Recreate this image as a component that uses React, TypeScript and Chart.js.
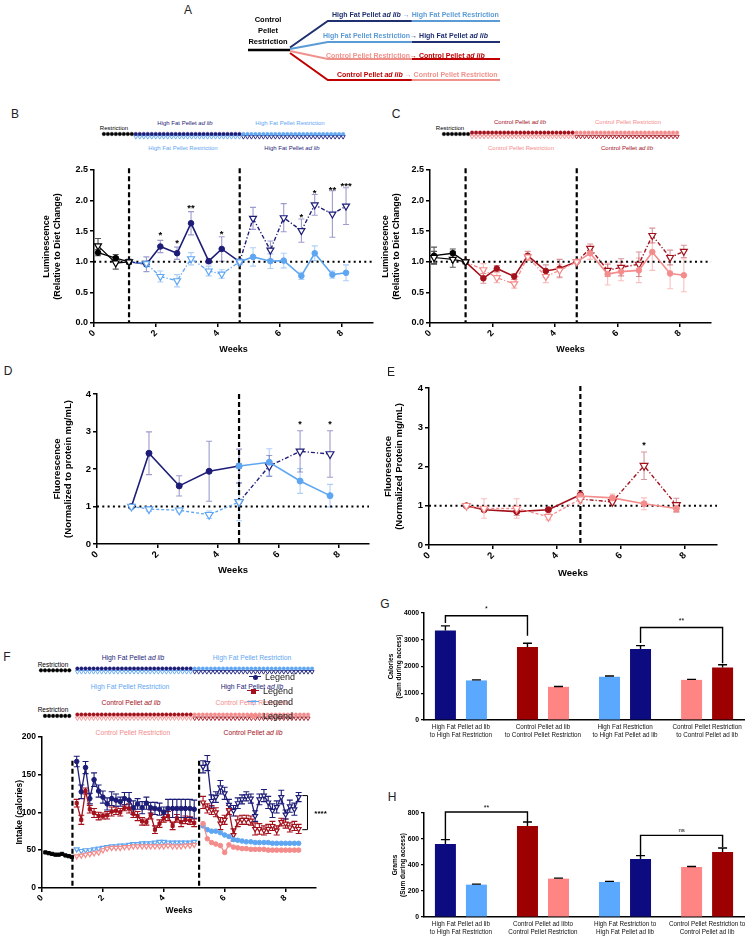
import React, { useEffect, useRef } from 'react';
import { Chart, registerables } from 'chart.js';

Chart.register(...registerables);

const FONT = "'Liberation Sans', Arial, Helvetica, sans-serif";
Chart.defaults.font.family = FONT;
Chart.defaults.color = '#000';

// ---------- colours
const NAVY = '#1d1d78';
const LBLUE = '#5fa6f2';
const DRED = '#a3111c';
const PINK = '#f48c8c';
const NAVY_ERR = 'rgba(75,75,165,0.55)';
const LBLUE_ERR = 'rgba(120,175,240,0.6)';
const DRED_ERR = 'rgba(175,45,55,0.5)';
const PINK_ERR = 'rgba(245,150,150,0.6)';
const BAR_NAVY = '#0c0c80';
const BAR_LBLUE = '#5ba9ff';
const BAR_DRED = '#9c0000';
const BAR_PINK = '#ff8585';
const A_NAVY = '#1f2f70';
const A_LBLUE = '#5b9bd5';
const A_PINK = '#f0928c';
const A_RED = '#c00000';

// ---------- Panel A (schematic)
const diagramStops = [0, 1, 1.9, 3.9, 6]; // restriction start, branch point, phase-1 start, switch, end
const branchLevels = [2.9, 0.8, -0.9, -3.0];
const branchOrigins = [0.25, 0.1, -0.1, -0.3];
const branchFirstColors = [A_NAVY, A_LBLUE, A_PINK, A_RED];
const branchSecondColors = [A_LBLUE, A_NAVY, A_RED, A_PINK];

// ---------- annotation marker spans (index ranges)
const bAnnotSpans = [[0, 7], [8, 34], [35, 60]];
const cAnnotSpans = [[0, 6], [7, 32], [33, 58]];
const f1AnnotSpans = [[0, 7], [9, 37], [38, 67]];
const f2AnnotSpans = [[1, 7], [9, 37], [38, 66]];

// ---------- Panel B (luminescence, high fat)
const bWeeksPre = [0.13, 0.7, 1.13];
const bPreCircle = [1.15, 1.06, 1.0];
const bPreCircleErr = [0.05, 0.06, 0.03];
const bPreTri = [1.26, 0.98, 1.0];
const bPreTriErr = [0.12, 0.1, 0.04];
const bWeeksP1 = [1.13, 1.69, 2.14, 2.68, 3.13, 3.7, 4.12, 4.7];
const bAdlibP1 = [1.0, 0.96, 1.25, 1.14, 1.63, 1.01, 1.21, 1.0];
const bAdlibP1Err = [0, 0.12, 0.1, 0.1, 0.19, 0.04, 0.2, 0];
const bRestrP1 = [1.0, 0.97, 0.76, 0.69, 1.05, 0.85, 0.8, 1.0];
const bRestrP1Err = [0, 0.05, 0.09, 0.1, 0.1, 0.08, 0.07, 0.05];
const bWeeksP2 = [4.7, 5.13, 5.69, 6.12, 6.69, 7.12, 7.69, 8.13];
const bRestrP2 = [1.0, 1.08, 1.01, 1.02, 0.77, 1.14, 0.79, 0.82];
const bRestrP2Err = [0, 0.15, 0.12, 0.12, 0.06, 0.12, 0.06, 0.13];
const bAdlibP2 = [1.0, 1.71, 1.19, 1.72, 1.51, 1.93, 1.78, 1.91];
const bAdlibP2Err = [0, 0.18, 0.15, 0.23, 0.19, 0.17, 0.38, 0.3];
const bSwitchWeeks = [1.13, 4.7];
const bStarWeeks = [2.14, 2.68, 3.13, 4.12, 6.69, 7.12, 7.69, 8.13];
const bStarLevels = [1.47, 1.35, 1.92, 1.49, 1.77, 2.16, 2.21, 2.28];
const bStars = ['*', '*', '**', '*', '*', '*', '**', '***'];

// ---------- Panel C (luminescence, control)
const cWeeksPre = [0.13, 0.73, 1.14];
const cPreCircle = [1.1, 1.14, 1.0];
const cPreCircleErr = [0.14, 0.07, 0.03];
const cPreTri = [1.07, 1.04, 1.0];
const cPreTriErr = [0.1, 0.13, 0.03];
const cWeeksP1 = [1.14, 1.71, 2.14, 2.7, 3.13, 3.71, 4.15, 4.7];
const cAdlibP1 = [1.0, 0.73, 0.89, 0.76, 1.1, 0.85, 0.89, 1.0];
const cAdlibP1Err = [0, 0.08, 0.05, 0.05, 0.07, 0.1, 0.15, 0];
const cRestrP1 = [1.0, 0.87, 0.74, 0.64, 1.08, 0.76, 0.86, 1.0];
const cRestrP1Err = [0, 0.1, 0.08, 0.07, 0.05, 0.1, 0.1, 0];
const cWeeksP2 = [4.7, 5.13, 5.69, 6.12, 6.69, 7.12, 7.69, 8.13];
const cRestrP2 = [1.0, 1.14, 0.8, 0.84, 0.86, 1.16, 0.81, 0.78];
const cRestrP2Err = [0, 0.1, 0.18, 0.15, 0.2, 0.3, 0.25, 0.27];
const cAdlibP2 = [1.0, 1.22, 0.86, 0.91, 0.96, 1.43, 1.07, 1.17];
const cAdlibP2Err = [0, 0.07, 0.1, 0.14, 0.2, 0.12, 0.12, 0.1];
const cSwitchWeeks = [1.14, 4.7];

// ---------- Panel D (fluorescence, high fat)
const dWeeksP1 = [1.14, 1.72, 2.72, 3.71, 4.7];
const dAdlibP1 = [1.0, 2.42, 1.55, 1.94, 2.08];
const dAdlibP1Err = [0.03, 0.57, 0.27, 0.8, 0.45];
const dRestrP1 = [1.0, 0.93, 0.9, 0.78, 1.12];
const dRestrP1Err = [0.05, 0.06, 0.05, 0.1, 0.5];
const dWeeksP2 = [4.7, 5.7, 6.72, 7.71];
const dRestrP2 = [2.08, 2.18, 1.68, 1.29];
const dRestrP2Err = [0, 0.36, 0.33, 0.3];
const dAdlibP2 = [1.12, 2.08, 2.47, 2.4];
const dAdlibP2Err = [0, 0.28, 0.55, 0.62];
const dSwitchWeeks = [4.7];
const dStarWeeks = [6.72, 7.71];
const dStarLevels = [3.26, 3.26];

// ---------- Panel E (fluorescence, control)
const eWeeksP1 = [1.17, 1.72, 2.74, 3.73, 4.73];
const eAdlibP1 = [1.0, 0.9, 0.85, 0.9, 1.28];
const eAdlibP1Err = [0.04, 0.05, 0.1, 0.05, 0.1];
const eRestrP1 = [1.0, 0.93, 0.93, 0.72, 1.17];
const eRestrP1Err = [0.05, 0.25, 0.25, 0.08, 0.1];
const eWeeksP2 = [4.73, 5.73, 6.72, 7.73];
const eRestrP2 = [1.25, 1.2, 1.05, 0.93];
const eRestrP2Err = [0, 0.1, 0.15, 0.1];
const eAdlibP2 = [1.17, 1.1, 2.02, 1.02];
const eAdlibP2Err = [0, 0.08, 0.35, 0.17];
const eSwitchWeeks = [4.73];
const eStarWeeks = [6.72];
const eStarLevels = [2.6];

// ---------- Panel F (intake)
const fWeeksPre = [0.11, 0.22, 0.33, 0.44, 0.55, 0.66, 0.77, 0.88, 0.98];
const fPre = [47, 46, 45, 44, 44, 45, 43, 42, 41];
const fWeeksP1 = [1.14, 1.29, 1.43, 1.57, 1.71, 1.86, 2.0, 2.14, 2.29, 2.43, 2.57, 2.71, 2.86, 3.0, 3.14, 3.29, 3.43, 3.57, 3.71, 3.86, 4.0, 4.14, 4.29, 4.43, 4.57, 4.71, 4.86, 5.0];
const fHfAdlibP1 = [167, 127, 159, 118, 143, 128, 120, 111, 118, 116, 114, 118, 116, 106, 111, 106, 112, 106, 105, 104, 100, 105, 105, 105, 105, 105, 105, 104];
const fHfAdlibP1Err = [7, 9, 8, 7, 9, 8, 8, 8, 9, 8, 6, 8, 10, 9, 7, 8, 8, 7, 8, 8, 7, 12, 12, 12, 12, 12, 12, 12];
const fCtrlAdlibP1 = [112, 90, 128, 104, 99, 95, 95, 96, 101, 102, 100, 106, 105, 98, 95, 88, 87, 97, 77, 85, 92, 95, 82, 92, 87, 90, 89, 86];
const fCtrlAdlibP1Err = [5, 6, 4, 5, 6, 5, 4, 5, 6, 5, 5, 4, 6, 5, 6, 5, 4, 6, 5, 5, 5, 6, 5, 5, 6, 5, 5, 5];
const fHfRestrP1 = [51, 49, 50, 50, 51, 52, 53, 54, 55, 55, 56, 56, 57, 58, 58, 59, 59, 59, 60, 61, 61, 60, 60, 60, 60, 60, 60, 61];
const fCtrlRestrP1 = [42, 43, 44, 45, 46, 47, 50, 52, 53, 53, 53, 54, 54, 55, 55, 55, 55, 55, 55, 55, 55, 56, 55, 55, 55, 56, 56, 57];
const fWeeksP2 = [5.29, 5.43, 5.57, 5.71, 5.86, 6.0, 6.14, 6.29, 6.43, 6.57, 6.71, 6.86, 7.0, 7.14, 7.29, 7.43, 7.57, 7.71, 7.86, 8.0, 8.14, 8.29, 8.43];
const fHfAdlibP2 = [160, 165, 115, 120, 133, 125, 110, 102, 112, 117, 121, 118, 95, 117, 122, 113, 102, 107, 120, 97, 108, 104, 120];
const fHfAdlibP2Err = [8, 10, 8, 7, 9, 8, 7, 7, 7, 6, 6, 6, 7, 7, 8, 8, 9, 8, 9, 6, 8, 8, 6];
const fCtrlAdlibP2 = [113, 105, 103, 100, 85, 90, 103, 70, 88, 90, 90, 89, 78, 78, 76, 78, 82, 76, 87, 85, 80, 82, 78];
const fCtrlAdlibP2Err = [8, 6, 6, 6, 8, 6, 6, 8, 7, 6, 6, 6, 8, 7, 6, 6, 6, 6, 5, 6, 6, 6, 6];
const fHfRestrP2 = [82, 77, 75, 75, 73, 70, 68, 64, 63, 62, 61, 61, 60, 60, 60, 60, 59, 59, 59, 59, 59, 59, 59];
const fCtrlRestrP2 = [85, 65, 60, 58, 56, 47, 57, 54, 53, 52, 52, 51, 51, 51, 51, 50, 50, 50, 50, 50, 50, 50, 50];
const fSwitchWeeks = [1.0, 5.16];

// ---------- Panel G (calories) & H (grams)
const gLabels = [
  ['High Fat Pellet ad lib', 'to High Fat Restriction'],
  ['Control Pellet ad lib', 'to Control Pellet Restriction'],
  ['High Fat Restriction', 'to High Fat Pellet ad lib'],
  ['Control Pellet Restriction', 'to Control Pellet ad lib'],
];
const gFirst = [3350, 2730, 1620, 1500];
const gFirstErr = [170, 140, 25, 20];
const gSecond = [1480, 1240, 2650, 1960];
const gSecondErr = [20, 15, 130, 105];
const gSigText = ['*', '**'];
const gSigTop = [3900, 3460];
const gSigLeftBottom = [3630, 2880];
const gSigRightBottom = [3150, 2120];
const gSigTextLevel = [4200, 3750];

const hLabels = [
  ['High Fat Pellet ad lib', 'to High Fat Restriction'],
  ['Control Pellet ad libto', 'Control Pellet Restriction'],
  ['High Fat Restriction to', 'High Fat Pellet ad lib'],
  ['Control Pellet Restriction to', 'Control Pellet ad lib'],
];
const hFirst = [562, 700, 270, 384];
const hFirstErr = [33, 31, 4, 4];
const hSecond = [249, 295, 446, 500];
const hSecondErr = [4, 4, 26, 31];
const hSigText = ['**', 'ns'];
const hSigTop = [808, 628];
const hSigLeftBottom = [598, 475];
const hSigRightBottom = [731, 538];
const hSigTextLevel = [852, 668];

const barFirstColors = [BAR_NAVY, BAR_DRED, BAR_LBLUE, BAR_PINK];
const barSecondColors = [BAR_LBLUE, BAR_PINK, BAR_NAVY, BAR_DRED];
const sigPairs = [
  [[0, 0], [1, 0]],
  [[2, 1], [3, 1]],
];

// ---------- helpers
const range = (a: number, b: number) => {
  const r: number[] = [];
  for (let i = a; i <= b; i++) r.push(i);
  return r;
};

function errorPlugin(after: boolean) {
  const draw = (chart: any) => {
    const ctx = chart.ctx;
    chart.data.datasets.forEach((ds: any, i: number) => {
      if (!ds.errors) return;
      const meta = chart.getDatasetMeta(i);
      const ys = chart.scales[meta.yAxisID];
      ctx.save();
      ctx.strokeStyle = ds.errorColor || ds.borderColor;
      ctx.lineWidth = ds.errorWidth || 1.1;
      ctx.setLineDash([]);
      meta.data.forEach((el: any, j: number) => {
        const e = ds.errors[j];
        if (!e) return;
        const raw = ds.data[j];
        const v = typeof raw === 'number' ? raw : raw.y;
        const x = el.x;
        const cap = ds.errorCap || 3;
        const yTop = ys.getPixelForValue(v + e);
        const yBot = ds.errorUpOnly ? el.y : ys.getPixelForValue(v - e);
        ctx.beginPath();
        ctx.moveTo(x, yTop);
        ctx.lineTo(x, yBot);
        ctx.moveTo(x - cap, yTop);
        ctx.lineTo(x + cap, yTop);
        if (!ds.errorUpOnly) {
          ctx.moveTo(x - cap, yBot);
          ctx.lineTo(x + cap, yBot);
        }
        ctx.stroke();
      });
      ctx.restore();
    });
  };
  return after
    ? { id: 'errbars', afterDatasetsDraw: draw }
    : { id: 'errbars', beforeDatasetsDraw: draw };
}

function marksPlugin(m: any) {
  return {
    id: 'marks',
    beforeDatasetsDraw(chart: any) {
      const { ctx, chartArea, scales } = chart;
      const xs = scales.x;
      const ys = scales.y;
      ctx.save();
      if (m.hline !== undefined) {
        ctx.strokeStyle = '#000';
        ctx.lineWidth = 2;
        ctx.setLineDash([2, 3.3]);
        const y = ys.getPixelForValue(m.hline);
        ctx.beginPath();
        ctx.moveTo(chartArea.left, y);
        ctx.lineTo(chartArea.right, y);
        ctx.stroke();
      }
      (m.vlines || []).forEach((v: any) => {
        ctx.strokeStyle = '#000';
        ctx.lineWidth = 2.2;
        ctx.setLineDash([5, 3]);
        const x = xs.getPixelForValue(v.x);
        ctx.beginPath();
        ctx.moveTo(x, ys.getPixelForValue(v.y1));
        ctx.lineTo(x, ys.getPixelForValue(v.y0));
        ctx.stroke();
      });
      ctx.restore();
    },
    afterDatasetsDraw(chart: any) {
      const { ctx, scales } = chart;
      const xs = scales.x;
      const ys = scales.y;
      ctx.save();
      ctx.fillStyle = '#000';
      ctx.textAlign = 'center';
      ctx.textBaseline = 'alphabetic';
      const size = m.starSize || 9;
      ctx.font = `bold ${size}px ${FONT}`;
      (m.stars || []).forEach((s: any) => {
        ctx.fillText(s.t, xs.getPixelForValue(s.x), ys.getPixelForValue(s.y) + size * 0.57);
      });
      (m.rbrackets || []).forEach((b: any) => {
        ctx.strokeStyle = '#000';
        ctx.lineWidth = 1;
        ctx.setLineDash([]);
        const x0 = xs.getPixelForValue(b.x0);
        const x1 = xs.getPixelForValue(b.x1);
        const yt = ys.getPixelForValue(b.yTop);
        const yb = ys.getPixelForValue(b.yBot);
        ctx.beginPath();
        ctx.moveTo(x0, yt);
        ctx.lineTo(x1, yt);
        ctx.lineTo(x1, yb);
        ctx.lineTo(x0, yb);
        ctx.stroke();
        const ts = b.size || 8;
        ctx.font = `bold ${ts}px ${FONT}`;
        ctx.fillText(b.t, xs.getPixelForValue(b.tx), ys.getPixelForValue(b.ty) + ts * 0.57);
      });
      ctx.restore();
    },
  };
}

function sigPlugin(sig: any) {
  return {
    id: 'sig',
    afterDatasetsDraw(chart: any) {
      const { ctx, scales } = chart;
      const ys = scales.y;
      ctx.save();
      ctx.strokeStyle = '#000';
      ctx.fillStyle = '#000';
      ctx.lineWidth = 1.4;
      ctx.textAlign = 'center';
      sig.pairs.forEach((p: any, i: number) => {
        const xa = chart.getDatasetMeta(p[0][1]).data[p[0][0]].x;
        const xb = chart.getDatasetMeta(p[1][1]).data[p[1][0]].x;
        const yt = ys.getPixelForValue(sig.top[i]);
        const ya = ys.getPixelForValue(sig.leftBottom[i]);
        const yb = ys.getPixelForValue(sig.rightBottom[i]);
        ctx.beginPath();
        ctx.moveTo(xa, ya);
        ctx.lineTo(xa, yt);
        ctx.lineTo(xb, yt);
        ctx.lineTo(xb, yb);
        ctx.stroke();
        const t = sig.text[i];
        const size = t === 'ns' ? 6 : 7;
        ctx.font = `${size}px ${FONT}`;
        ctx.textBaseline = 'middle';
        ctx.fillText(t, (xa + xb) / 2, ys.getPixelForValue(sig.textLevel[i]) + (t === 'ns' ? 0 : size * 0.25));
      });
      ctx.restore();
    },
  };
}

type Series = {
  x: number[];
  y: number[];
  err?: number[];
  color: string;
  errColor?: string;
  marker: string;
  open?: boolean;
  dash?: number[];
  r?: number;
  lw?: number;
};

function toDataset(s: Series) {
  const tri = s.marker === 'triangle';
  return {
    type: 'line',
    data: s.x.map((x, i) => ({ x, y: s.y[i] })),
    borderColor: s.color,
    backgroundColor: s.open ? '#ffffff' : s.color,
    pointBackgroundColor: s.open ? '#ffffff' : s.color,
    pointBorderColor: s.color,
    pointBorderWidth: s.open ? 1.2 : 1,
    pointStyle: s.marker,
    pointRotation: tri ? 180 : 0,
    pointRadius: s.r ?? (tri ? 4 : 2.8),
    borderWidth: s.lw ?? 1.5,
    borderDash: s.dash ?? [],
    tension: 0,
    fill: false,
    clip: false,
    errors: s.err,
    errorColor: s.errColor ?? s.color,
    errorCap: 3,
  };
}

function lineConfig(o: any): any {
  const tickFont = { size: o.tick, weight: 'bold', family: FONT };
  const titleFont = { size: o.title, weight: 'bold', family: FONT, lineHeight: o.titleLH || 1.2 };
  return {
    type: 'line',
    data: { datasets: o.series.map(toDataset) },
    options: {
      responsive: false,
      animation: false,
      events: [],
      layout: { padding: { left: 0, top: o.mt, right: o.mr, bottom: 0 } },
      plugins: { legend: { display: false }, tooltip: { enabled: false } },
      scales: {
        x: {
          type: 'linear',
          min: 0,
          max: o.xMax,
          afterBuildTicks: (s: any) => {
            s.ticks = s.ticks.filter((t: any) => t.value % 2 === 0);
          },
          afterFit: (s: any) => {
            s.height = o.mb;
          },
          ticks: { stepSize: 2, minRotation: 45, maxRotation: 45, font: tickFont, color: '#000', padding: 1 },
          grid: { display: true, drawOnChartArea: false, drawTicks: true, tickLength: 4, color: '#000', lineWidth: 1.5 },
          border: { display: true, color: '#000', width: 1.5 },
          title: { display: true, text: 'Weeks', font: titleFont, color: '#000', padding: { top: 0, bottom: o.xTitlePb } },
        },
        y: {
          type: 'linear',
          min: 0,
          max: o.yMax,
          afterFit: (s: any) => {
            s.width = o.ml;
          },
          ticks: { stepSize: o.yStep, callback: (v: number) => o.yFmt(v), font: tickFont, color: '#000', padding: 2 },
          grid: { display: true, drawOnChartArea: false, drawTicks: true, tickLength: 4, color: '#000', lineWidth: 1.5 },
          border: { display: true, color: '#000', width: 1.5 },
          title: { display: true, text: o.yTitle, font: titleFont, color: '#000', padding: { top: o.yTitlePt, bottom: 0 } },
        },
      },
    },
    plugins: [errorPlugin(false), marksPlugin(o.marks)],
  };
}

function barConfig(o: any): any {
  const mk = (vals: number[], errs: number[], colors: string[]) => ({
    data: vals.map((v, i) => ({ x: i, y: v })),
    backgroundColor: colors,
    borderWidth: 0,
    categoryPercentage: 0.756,
    barPercentage: 0.677,
    errors: errs,
    errorUpOnly: true,
    errorColor: '#000',
    errorCap: 4.5,
    errorWidth: 1.4,
  });
  return {
    type: 'bar',
    data: { datasets: [mk(o.first, o.firstErr, barFirstColors), mk(o.second, o.secondErr, barSecondColors)] },
    options: {
      responsive: false,
      animation: false,
      events: [],
      layout: { padding: { left: 0, top: o.mt, right: o.mr, bottom: 0 } },
      plugins: { legend: { display: false }, tooltip: { enabled: false } },
      scales: {
        x: {
          type: 'linear',
          min: -0.45,
          max: 3.45,
          offset: false,
          afterBuildTicks: (s: any) => {
            s.ticks = o.labels.map((_: any, i: number) => ({ value: i }));
          },
          afterFit: (s: any) => {
            s.height = o.mb;
          },
          ticks: {
            callback: (v: number) => o.labels[v] ?? '',
            autoSkip: false,
            minRotation: 0,
            maxRotation: 0,
            font: { size: 6.3, family: FONT, lineHeight: 1.25 },
            color: '#111',
            padding: 3,
          },
          grid: { display: false, drawTicks: false, tickLength: 0 },
          border: { display: true, color: '#000', width: 1.5 },
        },
        y: {
          type: 'linear',
          min: 0,
          max: o.yMax,
          afterFit: (s: any) => {
            s.width = o.ml;
          },
          ticks: {
            stepSize: o.yStep,
            callback: (v: number) => String(v),
            font: { size: 6.8, weight: 'bold', family: FONT },
            color: '#000',
            padding: 2,
          },
          grid: { display: true, drawOnChartArea: false, drawTicks: true, tickLength: 3, color: '#000', lineWidth: 1.2 },
          border: { display: true, color: '#000', width: 1.5 },
          title: {
            display: true,
            text: o.yTitle,
            font: { size: 6.5, weight: 'bold', family: FONT, lineHeight: 1.2 },
            color: '#000',
            padding: { top: o.yTitlePt, bottom: 0 },
          },
        },
      },
    },
    plugins: [errorPlugin(true), sigPlugin(o.sig)],
  };
}

function annotConfig(o: any): any {
  return {
    type: 'scatter',
    data: {
      datasets: o.rows.map((r: any) => ({
        data: range(r.span[0], r.span[1]).map((i) => ({ x: i, y: r.y })),
        pointStyle: r.marker,
        pointRotation: r.marker === 'triangle' ? 180 : 0,
        pointRadius: r.marker === 'triangle' ? 2.4 : 1.8,
        pointBackgroundColor: r.open ? '#ffffff' : r.color,
        pointBorderColor: r.color,
        pointBorderWidth: r.open ? 0.9 : 0.4,
        showLine: false,
        clip: false,
      })),
    },
    options: {
      responsive: false,
      animation: false,
      events: [],
      layout: { padding: 0 },
      plugins: { legend: { display: false }, tooltip: { enabled: false } },
      scales: {
        x: { type: 'linear', display: false, min: o.min, max: o.max },
        y: { type: 'linear', display: false, min: 0, max: 6 },
      },
    },
  };
}

function diagramConfig(): any {
  const seg = (pts: number[][], color: string, w: number) => ({
    data: pts.map((p) => ({ x: p[0], y: p[1] })),
    borderColor: color,
    borderWidth: w,
    pointRadius: 0,
    tension: 0,
    fill: false,
    clip: false,
  });
  const ds: any[] = [seg([[diagramStops[0], 0], [diagramStops[1], 0]], '#000', 2.5)];
  branchLevels.forEach((lv, i) => {
    ds.push(seg([[diagramStops[1], branchOrigins[i]], [diagramStops[2], lv], [diagramStops[3], lv]], branchFirstColors[i], 2));
    ds.push(seg([[diagramStops[3], lv], [diagramStops[4], lv]], branchSecondColors[i], 2));
  });
  return {
    type: 'line',
    data: { datasets: ds },
    options: {
      responsive: false,
      animation: false,
      events: [],
      layout: { padding: 0 },
      plugins: { legend: { display: false }, tooltip: { enabled: false } },
      scales: {
        x: { type: 'linear', display: false, min: -8 / 42, max: -8 / 42 + 270 / 42 },
        y: { type: 'linear', display: false, min: -4, max: 4 },
      },
    },
  };
}

// ---------- configs
const fmt1 = (v: number) => v.toFixed(1);
const fmt0 = (v: number) => String(Math.round(v));

const configB = () =>
  lineConfig({
    series: [
      { x: bWeeksPre, y: bPreTri, err: bPreTriErr, color: '#000', errColor: '#555', marker: 'triangle', open: true, lw: 1.2 },
      { x: bWeeksPre, y: bPreCircle, err: bPreCircleErr, color: '#000', errColor: '#555', marker: 'circle', lw: 1.4 },
      { x: bWeeksP1, y: bRestrP1, err: bRestrP1Err, color: LBLUE, errColor: LBLUE_ERR, marker: 'triangle', open: true, dash: [4, 2, 1.2, 2], lw: 1.3 },
      { x: bWeeksP2, y: bRestrP2, err: bRestrP2Err, color: LBLUE, errColor: LBLUE_ERR, marker: 'circle', lw: 1.6 },
      { x: bWeeksP1, y: bAdlibP1, err: bAdlibP1Err, color: NAVY, errColor: NAVY_ERR, marker: 'circle', lw: 1.6 },
      { x: bWeeksP2, y: bAdlibP2, err: bAdlibP2Err, color: NAVY, errColor: NAVY_ERR, marker: 'triangle', open: true, dash: [4, 2, 1.2, 2], lw: 1.4 },
    ],
    xMax: 9, yMax: 2.5, yStep: 0.5, yFmt: fmt1,
    yTitle: ['Luminescence', '(Relative to Diet Change)'],
    tick: 9, title: 9, ml: 64, mr: 10, mt: 12, mb: 34, yTitlePt: 11.6, xTitlePb: 1.6,
    marks: {
      hline: 1,
      vlines: bSwitchWeeks.map((x) => ({ x, y0: 0, y1: 2.53 })),
      stars: bStarWeeks.map((x, i) => ({ x, y: bStarLevels[i], t: bStars[i] })),
      starSize: 9.5,
    },
  });

const configC = () =>
  lineConfig({
    series: [
      { x: cWeeksPre, y: cPreTri, err: cPreTriErr, color: '#000', errColor: '#555', marker: 'triangle', open: true, lw: 1.2 },
      { x: cWeeksPre, y: cPreCircle, err: cPreCircleErr, color: '#000', errColor: '#555', marker: 'circle', lw: 1.4 },
      { x: cWeeksP1, y: cRestrP1, err: cRestrP1Err, color: PINK, errColor: PINK_ERR, marker: 'triangle', open: true, dash: [4, 2, 1.2, 2], lw: 1.3 },
      { x: cWeeksP2, y: cRestrP2, err: cRestrP2Err, color: PINK, errColor: PINK_ERR, marker: 'circle', lw: 1.6 },
      { x: cWeeksP1, y: cAdlibP1, err: cAdlibP1Err, color: DRED, errColor: DRED_ERR, marker: 'circle', lw: 1.6 },
      { x: cWeeksP2, y: cAdlibP2, err: cAdlibP2Err, color: DRED, errColor: DRED_ERR, marker: 'triangle', open: true, dash: [4, 2, 1.2, 2], lw: 1.4 },
    ],
    xMax: 9, yMax: 2.5, yStep: 0.5, yFmt: fmt1,
    yTitle: ['Luminescence', '(Relative to Diet Change)'],
    tick: 9, title: 9, ml: 50, mr: 10, mt: 12, mb: 34, yTitlePt: 0, xTitlePb: 1.6,
    marks: { hline: 1, vlines: cSwitchWeeks.map((x) => ({ x, y0: 0, y1: 2.53 })) },
  });

const configD = () =>
  lineConfig({
    series: [
      { x: dWeeksP1, y: dRestrP1, err: dRestrP1Err, color: LBLUE, errColor: LBLUE_ERR, marker: 'triangle', open: true, dash: [3, 2], lw: 1.3, r: 4.5 },
      { x: dWeeksP2, y: dRestrP2, err: dRestrP2Err, color: LBLUE, errColor: LBLUE_ERR, marker: 'circle', lw: 1.6, r: 3 },
      { x: dWeeksP1, y: dAdlibP1, err: dAdlibP1Err, color: NAVY, errColor: NAVY_ERR, marker: 'circle', lw: 1.6, r: 3 },
      { x: dWeeksP2, y: dAdlibP2, err: dAdlibP2Err, color: NAVY, errColor: NAVY_ERR, marker: 'triangle', open: true, dash: [4, 2, 1.2, 2], lw: 1.4, r: 4.5 },
    ],
    xMax: 9, yMax: 4, yStep: 1, yFmt: fmt0,
    yTitle: ['Fluorescence', '(Normalized to protein mg/mL)'],
    tick: 9.5, title: 9.5, titleLH: 1.25, ml: 57, mr: 10, mt: 12, mb: 33, yTitlePt: 11, xTitlePb: 1,
    marks: {
      hline: 1,
      vlines: dSwitchWeeks.map((x) => ({ x, y0: 0, y1: 4 })),
      stars: dStarWeeks.map((x, i) => ({ x, y: dStarLevels[i], t: '*' })),
      starSize: 9,
    },
  });

const configE = () =>
  lineConfig({
    series: [
      { x: eWeeksP1, y: eRestrP1, err: eRestrP1Err, color: PINK, errColor: PINK_ERR, marker: 'triangle', open: true, dash: [3, 2], lw: 1.3, r: 4.5 },
      { x: eWeeksP2, y: eRestrP2, err: eRestrP2Err, color: PINK, errColor: PINK_ERR, marker: 'circle', lw: 1.6, r: 3 },
      { x: eWeeksP1, y: eAdlibP1, err: eAdlibP1Err, color: DRED, errColor: DRED_ERR, marker: 'circle', lw: 1.6, r: 3 },
      { x: eWeeksP2, y: eAdlibP2, err: eAdlibP2Err, color: DRED, errColor: DRED_ERR, marker: 'triangle', open: true, dash: [4, 2, 1.2, 2], lw: 1.4, r: 4.5 },
    ],
    xMax: 9, yMax: 4, yStep: 1, yFmt: fmt0,
    yTitle: ['Fluorescence', '(Normalized Protein mg/mL)'],
    tick: 9.5, title: 9.5, titleLH: 1.25, ml: 49, mr: 10, mt: 12, mb: 34, yTitlePt: 2, xTitlePb: 0,
    marks: {
      hline: 1,
      vlines: eSwitchWeeks.map((x) => ({ x, y0: 0, y1: 4.05 })),
      stars: eStarWeeks.map((x, i) => ({ x, y: eStarLevels[i], t: '*' })),
      starSize: 9,
    },
  });

const configF = () =>
  lineConfig({
    series: [
      { x: fWeeksPre, y: fPre, color: '#000', marker: 'rect', lw: 1.3, r: 2.3 },
      { x: fWeeksP1, y: fCtrlRestrP1, color: PINK, marker: 'triangle', open: true, lw: 1.1, r: 2.8 },
      { x: fWeeksP1, y: fHfRestrP1, color: LBLUE, marker: 'triangle', open: true, lw: 1.1, r: 2.8 },
      { x: fWeeksP2, y: fCtrlRestrP2, color: PINK, marker: 'circle', lw: 1.3, r: 2.3 },
      { x: fWeeksP2, y: fHfRestrP2, color: LBLUE, marker: 'circle', lw: 1.3, r: 2.3 },
      { x: fWeeksP1, y: fCtrlAdlibP1, err: fCtrlAdlibP1Err, color: DRED, marker: 'rect', lw: 1.3, r: 2.2 },
      { x: fWeeksP2, y: fCtrlAdlibP2, err: fCtrlAdlibP2Err, color: DRED, marker: 'triangle', open: true, lw: 1.3, r: 2.8 },
      { x: fWeeksP1, y: fHfAdlibP1, err: fHfAdlibP1Err, color: NAVY, marker: 'circle', lw: 1.3, r: 2.3 },
      { x: fWeeksP2, y: fHfAdlibP2, err: fHfAdlibP2Err, color: NAVY, marker: 'triangle', open: true, lw: 1.3, r: 2.8 },
    ],
    xMax: 9, yMax: 200, yStep: 50, yFmt: fmt0,
    yTitle: 'Intake (calories)',
    tick: 8.5, title: 8.5, ml: 34, mr: 30, mt: 9.5, mb: 29, yTitlePt: 6.9, xTitlePb: 0.9,
    marks: {
      vlines: fSwitchWeeks.map((x) => ({ x, y0: 0, y1: 168 })),
      rbrackets: [{ x0: 8.55, x1: 8.72, yTop: 122, yBot: 77, t: '****', tx: 9.15, ty: 101, size: 8 }],
    },
  });

const configG = () =>
  barConfig({
    first: gFirst, firstErr: gFirstErr, second: gSecond, secondErr: gSecondErr,
    labels: gLabels, yMax: 4000, yStep: 1000, yTitle: ['Calories', '(Sum during access)'],
    ml: 44, mr: 6, mt: 16, mb: 22, yTitlePt: 7.1,
    sig: { pairs: sigPairs, text: gSigText, top: gSigTop, leftBottom: gSigLeftBottom, rightBottom: gSigRightBottom, textLevel: gSigTextLevel },
  });

const configH = () =>
  barConfig({
    first: hFirst, firstErr: hFirstErr, second: hSecond, secondErr: hSecondErr,
    labels: hLabels, yMax: 800, yStep: 200, yTitle: ['Grams', '(Sum during access)'],
    ml: 44, mr: 6, mt: 20, mb: 23, yTitlePt: 11.1,
    sig: { pairs: sigPairs, text: hSigText, top: hSigTop, leftBottom: hSigLeftBottom, rightBottom: hSigRightBottom, textLevel: hSigTextLevel },
  });

const annotB = () =>
  annotConfig({
    min: -1, max: 61,
    rows: [
      { span: bAnnotSpans[0], y: 3, marker: 'circle', color: '#000' },
      { span: bAnnotSpans[1], y: 3, marker: 'circle', color: NAVY },
      { span: bAnnotSpans[2], y: 3, marker: 'circle', color: LBLUE },
      { span: bAnnotSpans[1], y: 1, marker: 'triangle', open: true, color: LBLUE },
      { span: bAnnotSpans[2], y: 1, marker: 'triangle', open: true, color: NAVY },
    ],
  });

const annotC = () =>
  annotConfig({
    min: -1, max: 59,
    rows: [
      { span: cAnnotSpans[0], y: 3, marker: 'circle', color: '#000' },
      { span: cAnnotSpans[1], y: 4, marker: 'circle', color: DRED },
      { span: cAnnotSpans[2], y: 4, marker: 'circle', color: PINK },
      { span: cAnnotSpans[1], y: 1.2, marker: 'triangle', open: true, color: PINK },
      { span: cAnnotSpans[2], y: 1.2, marker: 'triangle', open: true, color: DRED },
    ],
  });

const annotF1 = () =>
  annotConfig({
    min: -1, max: 68,
    rows: [
      { span: f1AnnotSpans[0], y: 2, marker: 'circle', color: '#000' },
      { span: f1AnnotSpans[1], y: 3.33, marker: 'circle', color: NAVY },
      { span: f1AnnotSpans[2], y: 3.33, marker: 'circle', color: LBLUE },
      { span: f1AnnotSpans[1], y: 1, marker: 'triangle', open: true, color: LBLUE },
      { span: f1AnnotSpans[2], y: 1, marker: 'triangle', open: true, color: NAVY },
    ],
  });

const annotF2 = () =>
  annotConfig({
    min: -1, max: 68,
    rows: [
      { span: f2AnnotSpans[0], y: 2.33, marker: 'circle', color: '#000' },
      { span: f2AnnotSpans[1], y: 3.33, marker: 'circle', color: DRED },
      { span: f2AnnotSpans[2], y: 3.33, marker: 'circle', color: PINK },
      { span: f2AnnotSpans[1], y: 0.67, marker: 'triangle', open: true, color: PINK },
      { span: f2AnnotSpans[2], y: 0.67, marker: 'triangle', open: true, color: DRED },
    ],
  });

// ---------- components
function ChartCanvas({ left, top, width, height, make }: any) {
  const ref = useRef<HTMLCanvasElement>(null);
  useEffect(() => {
    const chart = new Chart(ref.current as HTMLCanvasElement, make());
    return () => chart.destroy();
  }, []);
  return (
    <canvas
      ref={ref}
      width={width}
      height={height}
      style={{ position: 'absolute', left, top, width, height }}
    />
  );
}

const Txt = ({ x, y, size, color = '#000', weight = 'normal', children }: any) => (
  <div
    style={{
      position: 'absolute',
      left: x,
      top: y,
      transform: 'translate(-50%,-50%)',
      fontSize: size,
      color,
      fontWeight: weight,
      whiteSpace: 'nowrap',
      lineHeight: 1,
      fontFamily: FONT,
    }}
  >
    {children}
  </div>
);

const Row = ({ x, y, children }: any) => (
  <div
    style={{
      position: 'absolute',
      left: x,
      top: y,
      transform: 'translateY(-50%)',
      fontSize: 7,
      fontWeight: 'bold',
      whiteSpace: 'nowrap',
      lineHeight: 1,
      fontFamily: FONT,
    }}
  >
    {children}
  </div>
);

const LegendRow = ({ x, y, color, shape }: any) => (
  <>
    <div style={{ position: 'absolute', left: x - 6, top: y - 0.75, width: 12, height: 0, borderTop: `1.5px solid ${color}` }} />
    {shape === 'circle' && (
      <div style={{ position: 'absolute', left: x - 2.5, top: y - 2.5, width: 5, height: 5, borderRadius: '50%', background: color }} />
    )}
    {shape === 'rect' && <div style={{ position: 'absolute', left: x - 2.5, top: y - 2.5, width: 5, height: 5, background: color }} />}
    {shape === 'triangle' && (
      <div style={{ position: 'absolute', left: x, top: y, transform: 'translate(-50%,-50%)', fontSize: 7, color, lineHeight: 1 }}>▽</div>
    )}
    <div style={{ position: 'absolute', left: x + 10, top: y, transform: 'translateY(-50%)', fontSize: 9, color: '#222', lineHeight: 1, fontFamily: FONT }}>
      Legend
    </div>
  </>
);

export default function App() {
  return (
    <div
      style={{
        position: 'absolute',
        left: 0,
        top: 0,
        width: 754,
        height: 940,
        background: '#ffffff',
        overflow: 'hidden',
        fontFamily: FONT,
      }}
    >
      {/* Panel A */}
      <Txt x={188} y={10} size={12} color="#222">A</Txt>
      <ChartCanvas left={240} top={10} width={270} height={80} make={diagramConfig} />
      <div
        style={{
          position: 'absolute',
          left: 268,
          top: 13.5,
          transform: 'translateX(-50%)',
          textAlign: 'center',
          fontSize: 7.5,
          fontWeight: 'bold',
          lineHeight: '11px',
          color: '#000',
          fontFamily: FONT,
        }}
      >
        Control
        <br />
        Pellet
        <br />
        Restriction
      </div>
      <Row x={332} y={14}>
        <span style={{ color: A_NAVY }}>
          High Fat Pellet <i>ad lib</i>
        </span>
        <span style={{ color: A_LBLUE }}> → High Fat Pellet Restriction</span>
      </Row>
      <Row x={323} y={35}>
        <span style={{ color: A_LBLUE }}>High Fat Pellet Restriction</span>
        <span style={{ color: A_NAVY }}>
          → High Fat Pellet <i>ad lib</i>
        </span>
      </Row>
      <Row x={326} y={54.5}>
        <span style={{ color: A_PINK }}>Control Pellet Restriction</span>
        <span style={{ color: A_RED }}>
          → Control Pellet <i>ad lib</i>
        </span>
      </Row>
      <Row x={337} y={74}>
        <span style={{ color: A_RED }}>
          Control Pellet <i>ad lib</i>
        </span>
        <span style={{ color: A_PINK }}> → Control Pellet Restriction</span>
      </Row>

      {/* Panel B */}
      <Txt x={15} y={114} size={12} color="#222">B</Txt>
      <Txt x={114} y={128} size={6}>Restriction</Txt>
      <Txt x={185} y={123} size={6} color={NAVY}>
        High Fat Pellet <i>ad lib</i>
      </Txt>
      <Txt x={290} y={122.5} size={6} color={LBLUE}>High Fat Pellet Restriction</Txt>
      <Txt x={183} y={148} size={6} color={LBLUE}>High Fat Pellet Restriction</Txt>
      <Txt x={292} y={148} size={6} color={NAVY}>
        High Fat Pellet <i>ad lib</i>
      </Txt>
      <ChartCanvas left={95} top={125} width={257} height={18} make={annotB} />
      <ChartCanvas left={30} top={158} width={353} height={199} make={configB} />

      {/* Panel C */}
      <Txt x={396} y={114} size={12} color="#222">C</Txt>
      <Txt x={450} y={127.7} size={6}>Restriction</Txt>
      <Txt x={520} y={122} size={6} color={DRED}>
        Control Pellet <i>ad lib</i>
      </Txt>
      <Txt x={628} y={121.7} size={6} color={PINK}>Control Pellet Restriction</Txt>
      <Txt x={521} y={147.7} size={6} color={PINK}>Control Pellet Restriction</Txt>
      <Txt x={627} y={147.7} size={6} color={DRED}>
        Control Pellet <i>ad lib</i>
      </Txt>
      <ChartCanvas left={435} top={125} width={251} height={18} make={annotC} />
      <ChartCanvas left={380} top={158} width={341} height={199} make={configC} />

      {/* Panel D */}
      <Txt x={8} y={371} size={12} color="#222">D</Txt>
      <ChartCanvas left={40} top={382} width={339} height={195} make={configD} />

      {/* Panel E */}
      <Txt x={391} y={372} size={12} color="#222">E</Txt>
      <ChartCanvas left={380} top={376} width={347} height={203} make={configE} />

      {/* Panel F */}
      <Txt x={7} y={657} size={12} color="#222">F</Txt>
      <Txt x={53} y={665} size={6.5}>Restriction</Txt>
      <Txt x={133} y={658} size={6.8} color={NAVY}>
        High Fat Pellet <i>ad lib</i>
      </Txt>
      <Txt x={252} y={658} size={6.8} color={LBLUE}>High Fat Pellet Restriction</Txt>
      <Txt x={130} y={687} size={6.8} color={LBLUE}>High Fat Pellet Restriction</Txt>
      <Txt x={252} y={687} size={6.8} color={NAVY}>
        High Fat Pellet <i>ad lib</i>
      </Txt>
      <Txt x={131} y={703} size={6.8} color={DRED}>
        Control Pellet <i>ad lib</i>
      </Txt>
      <Txt x={253} y={703} size={6.8} color={PINK}>Control Pellet Restriction</Txt>
      <Txt x={53} y={710} size={6.5}>Restriction</Txt>
      <Txt x={133} y={733} size={6.8} color={PINK}>Control Pellet Restriction</Txt>
      <Txt x={253} y={733} size={6.8} color={DRED}>
        Control Pellet <i>ad lib</i>
      </Txt>
      <ChartCanvas left={32} top={660} width={289} height={18} make={annotF1} />
      <ChartCanvas left={32} top={706} width={289} height={18} make={annotF2} />
      <ChartCanvas left={8} top={727} width={338} height={190} make={configF} />
      <LegendRow x={255} y={677} color={NAVY} shape="circle" />
      <LegendRow x={253} y={691} color={DRED} shape="rect" />
      <LegendRow x={253} y={702} color={LBLUE} shape="triangle" />
      <LegendRow x={253} y={716} color={PINK} shape="circle" />

      {/* Panel G */}
      <Txt x={385} y={604} size={12} color="#222">G</Txt>
      <ChartCanvas left={380} top={597} width={370} height={145} make={configG} />

      {/* Panel H */}
      <Txt x={392} y={797} size={12} color="#222">H</Txt>
      <ChartCanvas left={380} top={793} width={370} height={147} make={configH} />
    </div>
  );
}
